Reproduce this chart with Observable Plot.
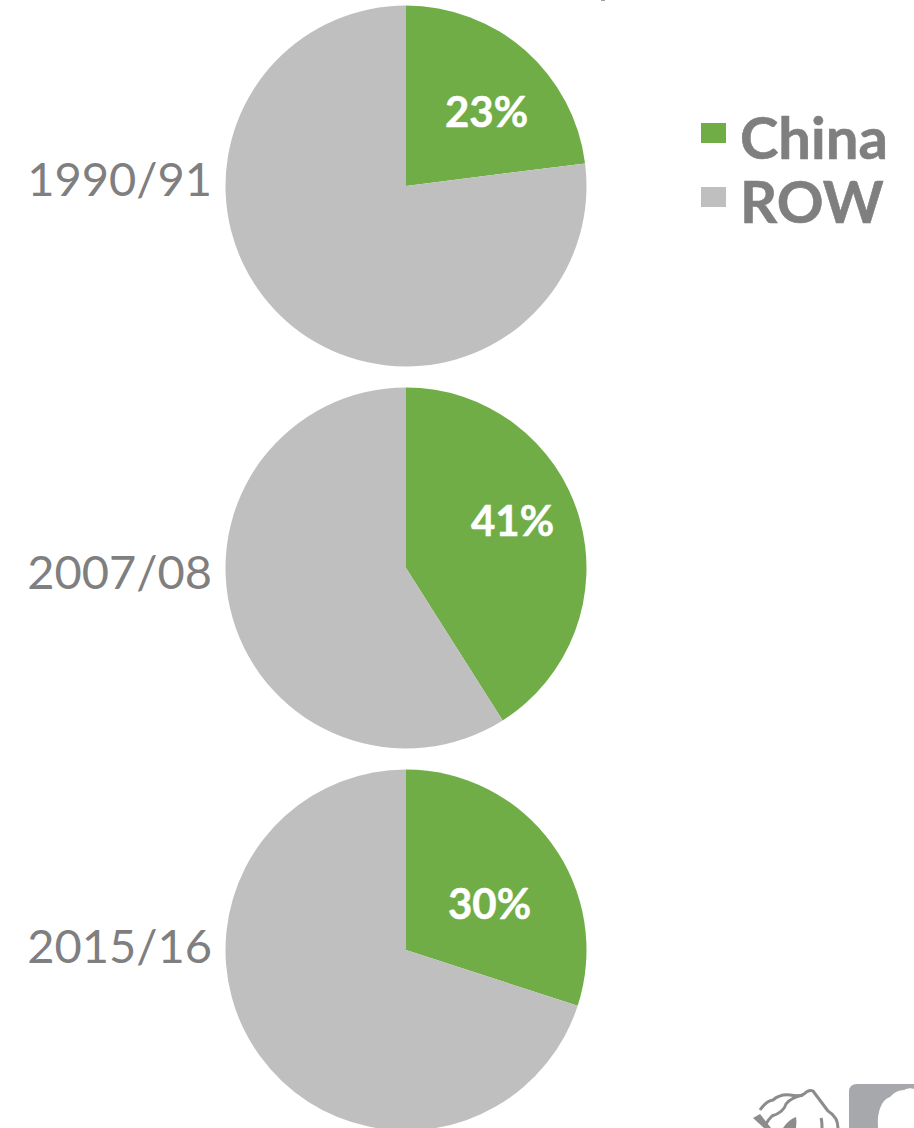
<!DOCTYPE html>
<html>
<head>
<meta charset="utf-8">
<script src="https://cdn.jsdelivr.net/npm/d3@7"></script>
<script src="https://cdn.jsdelivr.net/npm/@observablehq/plot@0.6"></script>
<style>
html,body{margin:0;padding:0;background:#fff;overflow:hidden}
#chart{position:relative;width:914px;height:1128px;font-family:Lato,sans-serif}
#legend{position:absolute;left:701px;top:105px;color:#7f7f7f;font-weight:700;font-size:58px;line-height:64px;-webkit-text-stroke:0.6px #7f7f7f}
#legend div{display:flex;align-items:center;height:64px}
#legend i{display:inline-block;width:25px;height:20px;margin-right:14px;position:relative;top:-4px}
#logo{position:absolute;left:0;top:0;pointer-events:none}
</style>
</head>
<body>
<div id="chart"></div>
<script>
const years = ["1990/91", "2007/08", "2015/16"];
const series = ["China", "ROW"];
const chinaShare = [23, 41, 30];
const rowShare = [77, 59, 70];
const colors = ["#70ad47", "#bfbfbf"];

const radius = 180.5;
const yearDy = [-6, 5, -3];
const labelOffset = [[80, -73], [106, -45.5], [83, -45]];

const slices = years.flatMap((year, i) => [
  {year, series: series[0], value: chinaShare[i]},
  {year, series: series[1], value: rowShare[i]}
]);

function pieRender(index, scales, values, dimensions, context) {
  const g = d3.select(context.document.createElementNS("http://www.w3.org/2000/svg", "g"));
  const arc = d3.arc().innerRadius(0).outerRadius(radius);
  for (const year of years) {
    const idx = Array.from(index).filter(i => slices[i].year === year);
    const arcs = d3.pie().sort(null).value(i => slices[i].value)(idx);
    for (const a of arcs) {
      g.append("path")
        .attr("transform", `translate(${values.x[a.data]},${values.y[a.data]})`)
        .attr("d", arc(a))
        .attr("fill", values.fill[a.data]);
    }
  }
  return g.node();
}

const plot = Plot.plot({
  width: 914,
  height: 1128,
  margin: 0,
  style: {background: "transparent", fontFamily: "Lato, sans-serif", overflow: "visible"},
  x: {type: "point", domain: ["pie"], range: [406, 406], padding: 0, axis: null},
  y: {type: "point", domain: years, range: [185.5, 950], padding: 0, axis: null},
  color: {domain: series, range: colors},
  marks: [
    Plot.dot(slices, {x: () => "pie", y: "year", fill: "series", r: radius, render: pieRender}),
    ...years.map((year, i) => Plot.text([year], {
      x: () => "pie", y: d => d, text: d => d, textAnchor: "end", dx: -194.5, dy: yearDy[i],
      fontSize: 47, fill: "#7f7f7f"
    })),
    ...years.map((year, i) => Plot.text([chinaShare[i]], {
      x: () => "pie", y: () => year, text: d => d + "%", dx: labelOffset[i][0], dy: labelOffset[i][1],
      fontSize: 42, fontWeight: 700, fill: "#fff", stroke: "#fff", strokeWidth: 0.5
    }))
  ]
});
document.getElementById("chart").appendChild(plot);

const legend = d3.select("#chart").append("div").attr("id", "legend");
series.forEach((s, i) => {
  const row = legend.append("div");
  row.append("i").style("background", colors[i]);
  row.append("span").text(s);
});

// Decorative logo clipped at the bottom-right corner of the picture
d3.select("#chart").append("div").html(`
<svg id="logo" width="914" height="1128" viewBox="0 0 914 1128">
  <path d="M849 1128V1092Q849 1084 857 1084H914V1128Z" fill="#a6a8ab"/>
  <path d="M878 1128Q877 1114 881 1106Q884 1099 890 1097Q896 1090 904 1090Q909 1087 914 1089V1128Z" fill="#fff"/>
  <path d="M760 1110Q766 1101 773 1100Q780 1094 790 1095Q800 1097 804 1094Q809 1089 813 1091Q822 1103 828 1111Q838 1117 838 1128" fill="none" stroke="#8c8c8c" stroke-width="3"/>
  <path d="M803 1095Q790 1098 786 1104Q784 1112 772 1116Q768 1120 766 1124" fill="none" stroke="#8c8c8c" stroke-width="3"/>
  <path d="M753 1118L760 1114L771 1128H764Z" fill="#8c8c8c"/>
  <path d="M783 1128Q788 1120 796 1117Q797 1122 796 1128Z" fill="#8c8c8c"/>
  <path d="M822 1128Q822 1121 821 1118" fill="none" stroke="#8c8c8c" stroke-width="3"/>
  <rect x="601" y="0" width="4" height="1" fill="#a0a0a0"/>
</svg>`);
</script>
</body>
</html>
